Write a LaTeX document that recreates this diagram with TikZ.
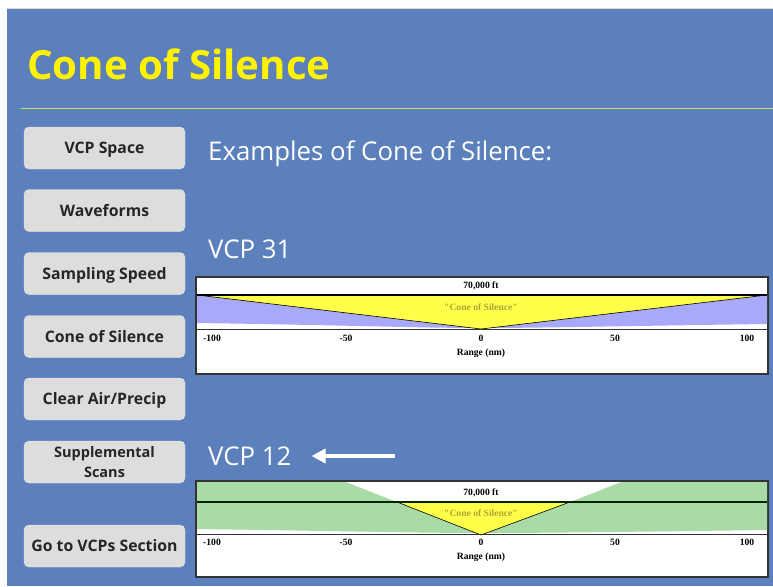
\documentclass[tikz,border=0pt]{standalone}
\usepackage{fontspec}
\setmainfont{Open Sans}
\newfontfamily\chartfont{Liberation Serif}
\usetikzlibrary{arrows.meta}
\definecolor{slideblue}{HTML}{5B80BB}
\definecolor{navgray}{HTML}{DDDDDD}
\definecolor{rulegreen}{HTML}{D2DC5A}
\definecolor{vcpblue}{HTML}{A9A9F9}
\definecolor{vcpgreen}{HTML}{A8DBA6}
\definecolor{coneyellow}{HTML}{FFFF4A}
\definecolor{coneolive}{HTML}{ACA636}

\begin{document}
\begin{tikzpicture}[x=1pt,y=-1pt,
  navbtn/.style={fill=navgray,draw=navgray!70!white,rounded corners=5pt,minimum width=161pt,minimum height=42pt,
    inner sep=0pt,align=center,text=black!85,font=\fontsize{15.8}{18}\selectfont\bfseries},
  navone/.style={navbtn,text height=11.3pt,text depth=0pt},
  slidetxt/.style={text=white,anchor=base west,inner sep=0pt,font=\fontsize{25.8}{30}\selectfont},
  chartlbl/.style={inner sep=0pt,font=\chartfont\bfseries\fontsize{9.6}{11}\selectfont}]
\useasboundingbox (0,0) rectangle (773,586);
\fill[white] (0,0) rectangle (773,586);
\fill[slideblue] (7,8) rectangle (773,586);
\draw[black!15,line width=0.8pt] (7,8.4) -- (773,8.4);
\node[anchor=base west,inner sep=0pt,text=yellow,font=\fontsize{40.2}{48}\selectfont\bfseries] (title) at (27,79) {Cone of Silence};
\draw[rulegreen,line width=1pt] (21,108) -- (773,108);

\node[navone] (vcpspace) at (104.5,148) {VCP Space};
\node[navone] (waveforms) at (104.5,210.5) {Waveforms};
\node[navone] (sampling) at (104.5,273.5) {Sampling Speed};
\node[navone] (cone) at (104.5,336.5) {Cone of Silence};
\node[navone] (clearair) at (104.5,399) {Clear Air/Precip};
\node[navbtn,font=\fontsize{14.5}{20}\selectfont\bfseries] (supplemental) at (104.5,462) {Supplemental\\Scans};
\node[navone] (gotovcp) at (104.5,546) {Go to VCPs Section};

\node[slidetxt] (examples) at (208,160) {Examples of Cone of Silence:};
\node[slidetxt] (vcp31) at (208,258) {VCP 31};
\node[slidetxt] (vcp12) at (208,465) {VCP 12};
\coordinate (arrtail) at (395,456);
\draw[white,line width=3.5pt,-{Triangle[length=14pt,width=14pt]},shorten >=20pt] (arrtail) -- (arrtail -| vcp12.east);

\filldraw[fill=white,draw=black!80,line width=1.2pt] (196,277) rectangle (768,374);
\fill[vcpblue] (197,295) -- (767,295) -- (767,324) .. controls (620,326) and (540,328) .. (481,328)
  .. controls (420,328) and (340,325) .. (197,323) -- cycle;
\filldraw[fill=coneyellow,draw=black,line width=0.6pt] (197,295) -- (481,329) -- (767,295) -- cycle;
\draw[black,line width=1.3pt] (197,295) -- (767,295);
\draw[black!80,line width=1pt] (197,329) -- (767,329);
\node[chartlbl] (alt31) at (481,286) {70,000 ft};
\node[chartlbl,text=coneolive] (cos31) at (481,307) {"Cone of Silence"};
\foreach \v/\px in {-100/212,-50/346,0/481,50/615,100/747}
  \node[chartlbl] at (\px,338) {\v};
\node[chartlbl] (range31) at (481,353) {Range (nm)};

\filldraw[fill=white,draw=black!80,line width=1.2pt] (196,481) rectangle (768,577);
\fill[vcpgreen] (197,482) -- (767,482) -- (767,530) .. controls (620,532) and (540,533) .. (481,533)
  .. controls (420,533) and (340,531) .. (197,529) -- cycle;
\fill[white] (346,482) -- (621,482) -- (570,502) -- (397,502) -- cycle;
\filldraw[fill=coneyellow,draw=black,line width=0.6pt] (397,502) -- (481,535) -- (570,502) -- cycle;
\draw[black!85!green,line width=1.3pt] (197,502) -- (767,502);
\draw[black!80,line width=1pt] (197,534) -- (767,534);
\node[chartlbl] (alt12) at (481,493) {70,000 ft};
\node[chartlbl,text=coneolive] (cos12) at (481,513) {"Cone of Silence"};
\foreach \v/\px in {-100/212,-50/346,0/481,50/615,100/747}
  \node[chartlbl] at (\px,542) {\v};
\node[chartlbl] (range12) at (481,557) {Range (nm)};
\end{tikzpicture}
\end{document}
